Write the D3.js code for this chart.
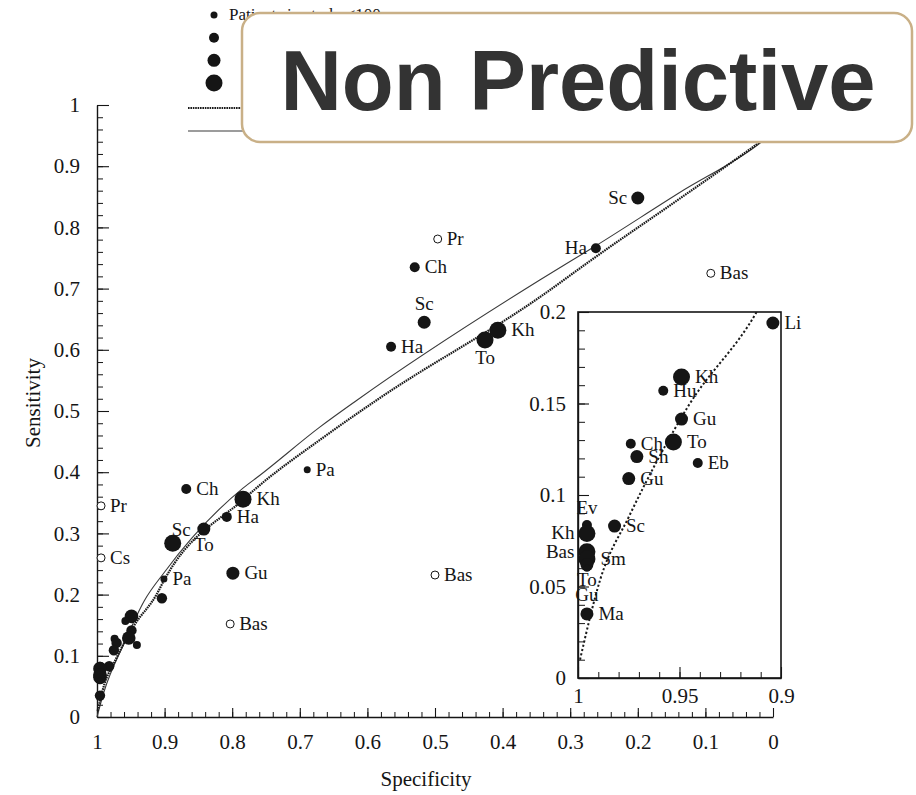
<!DOCTYPE html>
<html>
<head>
<meta charset="utf-8">
<script src="https://cdn.jsdelivr.net/npm/d3@7"></script>
<style>
  body { margin: 0; background: #fff; }
  svg { display: block; }
</style>
</head>
<body>
<svg id="chart" width="916" height="795"></svg>
<script>
// ---- Studies plotted on the full ROC space (size class -1 = open circle) ----
const mainStudy = ["Sc","Ha","Bas","Pr","Ch","Sc","Ha","To","Kh","Pa","Bas","Ch","Kh","Ha","To","Sc","Gu","Bas","Pa","Pr","Cs"];
const mainSpec  = [0.200,0.262,0.092,0.496,0.530,0.516,0.565,0.426,0.407,0.689,0.500,0.868,0.784,0.808,0.842,0.888,0.799,0.803,0.901,0.994,0.994];
const mainSens  = [0.848,0.766,0.725,0.781,0.735,0.645,0.605,0.616,0.632,0.404,0.232,0.3725,0.356,0.327,0.307,0.284,0.235,0.152,0.2255,0.345,0.260];
const mainSize  = [2,1,-1,-1,1,2,1,3,3,0,-1,1,3,1,2,3,2,-1,0,-1,-1];
const mainLabelSide = ["w","w","e","e","e","n","e","s","e","e","e","e","e","e","s","ne","e","e","e","e","e"];

// ---- Studies in the high-specificity corner (shown enlarged) ----
const insetStudy = ["Li","Kh","Hu","Gu","To","Ch","Sh","Eb","Gu","Sc","Ev","Kh","Bas","Sm","To","Gu","Ma"];
const insetSpec  = [0.904,0.949,0.958,0.949,0.953,0.974,0.971,0.941,0.975,0.982,0.9956,0.9956,0.9956,0.9956,0.9956,0.9956,0.9956];
const insetSens  = [0.194,0.1645,0.157,0.1415,0.129,0.128,0.121,0.1175,0.109,0.083,0.0836,0.079,0.069,0.065,0.062,0.060,0.035];
const insetSize  = [2,3,1,2,3,1,2,1,2,2,1,3,3,3,2,0,2];
const insetLabelSide = ["e","e","e","e","e","e","e","e","e","e","n","w","w","e","s","s2","e"];

// ---- Summary ROC curves ----
const solidSpec  = [1.0,0.99,0.96,0.93,0.90,0.784,0.759,0.67,0.615,0.345,0.262,0.138,0.019,0.0];
const solidSens  = [0.0,0.04,0.12,0.19,0.237,0.374,0.395,0.474,0.518,0.714,0.770,0.857,0.938,0.955];
const dottedSpec = [0.999,0.989,0.975,0.946,0.912,0.90,0.784,0.759,0.67,0.586,0.345,0.262,0.138,0.03,0.0];
const dottedSens = [0.01,0.054,0.088,0.148,0.2,0.225,0.355,0.379,0.453,0.518,0.686,0.752,0.847,0.931,0.955];

// ---- Tick labels ----
const xTicks = [1,0.9,0.8,0.7,0.6,0.5,0.4,0.3,0.2,0.1,0];
const yTicks = [0,0.1,0.2,0.3,0.4,0.5,0.6,0.7,0.8,0.9,1];
const insetXTicks = [1,0.95,0.9];
const insetYTicks = [0,0.05,0.1,0.15,0.2];
const sizeClasses = [0,1,2,3];

const serif = "'Liberation Serif','Times New Roman',serif";
const ink = "#151515";
const svg = d3.select("#chart");

const x  = d3.scaleLinear().domain([1, 0]).range([97, 773]);
const y  = d3.scaleLinear().domain([0, 1]).range([717, 105]);
const xi = d3.scaleLinear().domain([1, 0.9]).range([578, 781]);
const yi = d3.scaleLinear().domain([0, 0.2]).range([678, 312]);
const rad = d3.scaleOrdinal().domain(sizeClasses).range([3.5, 5, 6.5, 8.5]);

function styleAxis(g, fontSize) {
  g.selectAll(".domain").attr("stroke", ink).attr("stroke-width", 1.4);
  g.selectAll(".tick line").attr("stroke", ink).attr("stroke-width", 1.1);
  g.selectAll(".tick text").attr("fill", ink).attr("font-family", serif).attr("font-size", fontSize);
}
function minorTicks(g) {
  g.select(".domain").remove();
  g.selectAll(".tick line").attr("stroke", ink).attr("stroke-width", 1);
}

// ---- Main axes ----
const minorMain = d3.range(51).map(i => i / 50);
svg.append("g").attr("transform", "translate(0,717)")
  .call(d3.axisBottom(x).tickValues(minorMain).tickSize(-5).tickFormat(""))
  .call(minorTicks);
svg.append("g").attr("transform", "translate(97,0)")
  .call(d3.axisLeft(y).tickValues(minorMain).tickSize(-6).tickFormat(""))
  .call(minorTicks);
svg.append("g").attr("transform", "translate(0,717)")
  .call(d3.axisBottom(x).tickValues(xTicks).tickSize(-9).tickSizeOuter(0).tickPadding(17).tickFormat(d => d))
  .call(g => styleAxis(g, 21));
svg.append("g").attr("transform", "translate(97,0)")
  .call(d3.axisLeft(y).tickValues(yTicks).tickSize(-12).tickSizeOuter(0).tickPadding(17).tickFormat(d => d))
  .call(g => styleAxis(g, 21));

svg.append("text").attr("x", 426).attr("y", 786).attr("text-anchor", "middle")
  .attr("font-family", serif).attr("font-size", 21).attr("fill", ink).text("Specificity");
svg.append("text").attr("transform", "translate(40,403) rotate(-90)").attr("text-anchor", "middle")
  .attr("font-family", serif).attr("font-size", 21).attr("fill", ink).text("Sensitivity");

// ---- Summary curves ----
const solidPts  = solidSpec.map((s, i) => [s, solidSens[i]]);
const dottedPts = dottedSpec.map((s, i) => [s, dottedSens[i]]);
const mainLine = d3.line().x(d => x(d[0])).y(d => y(d[1])).curve(d3.curveMonotoneX);
svg.append("path").attr("d", mainLine(solidPts)).attr("fill", "none")
  .attr("stroke", "#3a3a3a").attr("stroke-width", 1.1);
svg.append("path").attr("d", mainLine(dottedPts)).attr("fill", "none")
  .attr("stroke", "#1a1a1a").attr("stroke-width", 2.2).attr("stroke-dasharray", "1.6,0.8");

// ---- Point markers and labels ----
function drawStudies(g, xs, ys, spec, sens, size, names, sides, scaleR, withLabels) {
  const data = spec.map((s, i) => ({ s, v: sens[i], k: size[i], n: names[i], side: sides[i] }));
  const rOf = d => (d.k < 0 ? 4 : rad(d.k) * scaleR);
  g.selectAll(null).data(data).join("circle")
    .attr("cx", d => xs(d.s)).attr("cy", d => ys(d.v)).attr("r", rOf)
    .attr("fill", d => (d.k < 0 ? "#fff" : ink))
    .attr("stroke", ink).attr("stroke-width", d => (d.k < 0 ? 1 : 0));
  if (!withLabels) return;
  g.selectAll(null).data(data).join("text")
    .attr("font-family", serif).attr("font-size", 19).attr("fill", ink)
    .attr("x", d => {
      const cx = xs(d.s), r = rOf(d);
      if (d.side === "e") return cx + r + 5;
      if (d.side === "w") return cx - r - 4;
      if (d.side === "ne") return cx - 1;
      return cx;
    })
    .attr("y", d => {
      const cy = ys(d.v), r = rOf(d);
      if (d.side === "n") return cy - r - 6;
      if (d.side === "ne") return cy - r + 1;
      if (d.side === "s") return cy + r + 15;
      if (d.side === "s2") return cy + r + 29;
      return cy + 6;
    })
    .attr("text-anchor", d => (d.side === "e" || d.side === "ne") ? "start" : d.side === "w" ? "end" : "middle")
    .text(d => d.n);
}

const mainG = svg.append("g");
drawStudies(mainG, x, y, insetSpec, insetSens, insetSize, insetStudy, insetLabelSide, 0.8, false);
drawStudies(mainG, x, y, mainSpec, mainSens, mainSize, mainStudy, mainLabelSide, 1, true);

// ---- Enlarged corner ----
const inset = svg.append("g");
inset.append("rect").attr("x", xi(1)).attr("y", yi(0.2))
  .attr("width", xi(0.9) - xi(1)).attr("height", yi(0) - yi(0.2))
  .attr("fill", "#fff").attr("stroke", ink).attr("stroke-width", 1.6);
svg.append("clipPath").attr("id", "insetClip").append("rect")
  .attr("x", xi(1)).attr("y", yi(0.2)).attr("width", xi(0.9) - xi(1)).attr("height", yi(0) - yi(0.2));

const minorInset = d3.range(21).map(i => i / 100);
const minorInsetX = d3.range(11).map(i => 1 - i / 100);
inset.append("g").attr("transform", `translate(0,${yi(0)})`)
  .call(d3.axisBottom(xi).tickValues(minorInsetX).tickSize(-6).tickFormat(""))
  .call(minorTicks);
inset.append("g").attr("transform", `translate(${xi(1)},0)`)
  .call(d3.axisLeft(yi).tickValues(minorInset).tickSize(-7).tickFormat(""))
  .call(minorTicks);
inset.append("g").attr("transform", `translate(0,${yi(0)})`)
  .call(d3.axisBottom(xi).tickValues(insetXTicks).tickSize(-11).tickSizeOuter(0).tickPadding(10).tickFormat(d => d))
  .call(g => styleAxis(g, 21));
inset.append("g").attr("transform", `translate(${xi(1)},0)`)
  .call(d3.axisLeft(yi).tickValues(insetYTicks).tickSize(-11).tickSizeOuter(0).tickPadding(12).tickFormat(d => d))
  .call(g => styleAxis(g, 21));

const insetLine = d3.line().x(d => xi(d[0])).y(d => yi(d[1])).curve(d3.curveMonotoneX);
inset.append("path").attr("clip-path", "url(#insetClip)")
  .attr("d", insetLine(dottedPts.slice(0, 8))).attr("fill", "none")
  .attr("stroke", "#1a1a1a").attr("stroke-width", 2).attr("stroke-dasharray", "2.2,2.2");

drawStudies(inset.append("g"), xi, yi, insetSpec, insetSens, insetSize, insetStudy, insetLabelSide, 1, true);

// ---- Legend ----
const legend = svg.append("g");
const legendY = d3.scalePoint().domain(sizeClasses).range([15, 83]);
legend.selectAll(null).data(sizeClasses).join("circle")
  .attr("cx", 214).attr("cy", d => legendY(d)).attr("r", d => rad(d)).attr("fill", ink);
legend.append("text").attr("x", 229).attr("y", 20).attr("font-family", serif)
  .attr("font-size", 17).attr("fill", ink).text("Patients in study <100 cases");
legend.append("line").attr("x1", 188).attr("x2", 250).attr("y1", 108).attr("y2", 108)
  .attr("stroke", "#1a1a1a").attr("stroke-width", 2).attr("stroke-dasharray", "1.6,0.8");
legend.append("line").attr("x1", 188).attr("x2", 250).attr("y1", 131).attr("y2", 131)
  .attr("stroke", "#3a3a3a").attr("stroke-width", 1.1);

// ---- Banner ----
svg.append("rect").attr("x", 242).attr("y", 13).attr("width", 670).attr("height", 129)
  .attr("rx", 18).attr("fill", "#fff").attr("stroke", "#c9b087").attr("stroke-width", 2.5);
svg.append("text").attr("x", 578).attr("y", 110).attr("text-anchor", "middle")
  .attr("font-family", "'Liberation Sans', Arial, sans-serif").attr("font-weight", "bold")
  .attr("font-size", 85).attr("fill", "#333").text("Non Predictive");
</script>
</body>
</html>
